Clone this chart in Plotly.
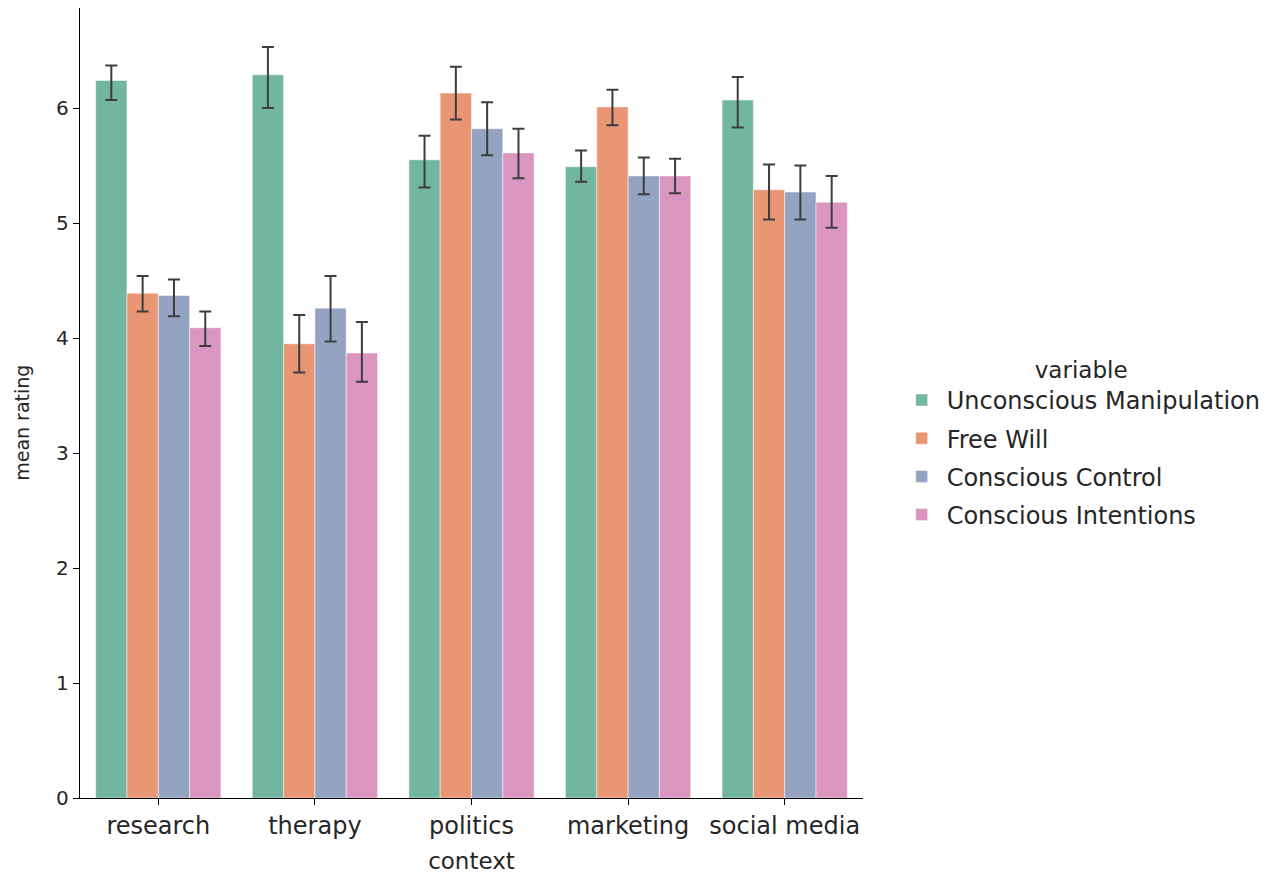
import plotly.graph_objects as go

# Mean rating per context, with the bootstrap CI bounds for each bar
contexts = ["research", "therapy", "politics", "marketing", "social media"]
variables = ["Unconscious Manipulation", "Free Will", "Conscious Control", "Conscious Intentions"]
colors = ["#72b6a1", "#e99675", "#95a3c3", "#db96c0"]

unconscious_manipulation = [6.24, 6.29, 5.55, 5.49, 6.07]
unconscious_manipulation_hi = [6.37, 6.53, 5.76, 5.63, 6.27]
unconscious_manipulation_lo = [6.07, 6.00, 5.31, 5.36, 5.83]

free_will = [4.39, 3.95, 6.13, 6.01, 5.29]
free_will_hi = [4.54, 4.20, 6.36, 6.16, 5.51]
free_will_lo = [4.23, 3.70, 5.90, 5.85, 5.03]

conscious_control = [4.37, 4.26, 5.82, 5.41, 5.27]
conscious_control_hi = [4.51, 4.54, 6.05, 5.57, 5.50]
conscious_control_lo = [4.19, 3.97, 5.59, 5.25, 5.03]

conscious_intentions = [4.09, 3.87, 5.61, 5.41, 5.18]
conscious_intentions_hi = [4.23, 4.14, 5.82, 5.56, 5.41]
conscious_intentions_lo = [3.93, 3.62, 5.39, 5.26, 4.96]

series = [
    (unconscious_manipulation, unconscious_manipulation_hi, unconscious_manipulation_lo),
    (free_will, free_will_hi, free_will_lo),
    (conscious_control, conscious_control_hi, conscious_control_lo),
    (conscious_intentions, conscious_intentions_hi, conscious_intentions_lo),
]

font = "DejaVu Sans"
text_color = "#262626"
fig = go.Figure()
for name, color, (vals, hi, lo) in zip(variables, colors, series):
    fig.add_trace(go.Bar(
        x=contexts,
        y=vals,
        name=name,
        legendgroup=name,
        marker=dict(color=color, line=dict(width=0.8, color="rgba(255,255,255,0.6)")),
        error_y=dict(
            type="data",
            symmetric=False,
            array=[h - v for h, v in zip(hi, vals)],
            arrayminus=[v - l for v, l in zip(vals, lo)],
            color="#3d3d3d",
            thickness=2,
            width=6,
        ),
    ))

fig.update_layout(
    width=1285,
    height=879,
    barmode="group",
    bargap=0.2,
    bargroupgap=0,
    plot_bgcolor="white",
    paper_bgcolor="white",
    margin=dict(l=80, r=422, t=8, b=81),
    font=dict(family=font, size=24, color=text_color),
    legend=dict(
        title=dict(text="variable", side="top center", font=dict(size=23)),
        font=dict(size=24),
        x=1.043,
        xanchor="left",
        y=0.45,
        yanchor="middle",
        traceorder="grouped",
        itemwidth=40,
        tracegroupgap=4,
    ),
    xaxis=dict(
        title=dict(text="context", standoff=13, font=dict(size=23)),
        tickfont=dict(size=24),
        range=[-0.5, 4.5],
        showline=True,
        linecolor="black",
        linewidth=1.3,
        ticks="outside",
        ticklen=6,
        tickcolor="black",
        showgrid=False,
    ),
    yaxis=dict(
        tickfont=dict(size=20),
        range=[0, 6.87],
        tickvals=[0, 1, 2, 3, 4, 5, 6],
        showline=True,
        linecolor="black",
        linewidth=1.3,
        ticks="outside",
        ticklen=6,
        tickcolor="black",
        showgrid=False,
        zeroline=False,
    ),
    annotations=[dict(
        text="mean rating",
        textangle=-90,
        xref="paper", yref="paper",
        x=-0.074, y=0.475,
        xanchor="center", yanchor="middle",
        showarrow=False,
        font=dict(size=19, color=text_color),
    )],
)

fig.write_html("out.html")
